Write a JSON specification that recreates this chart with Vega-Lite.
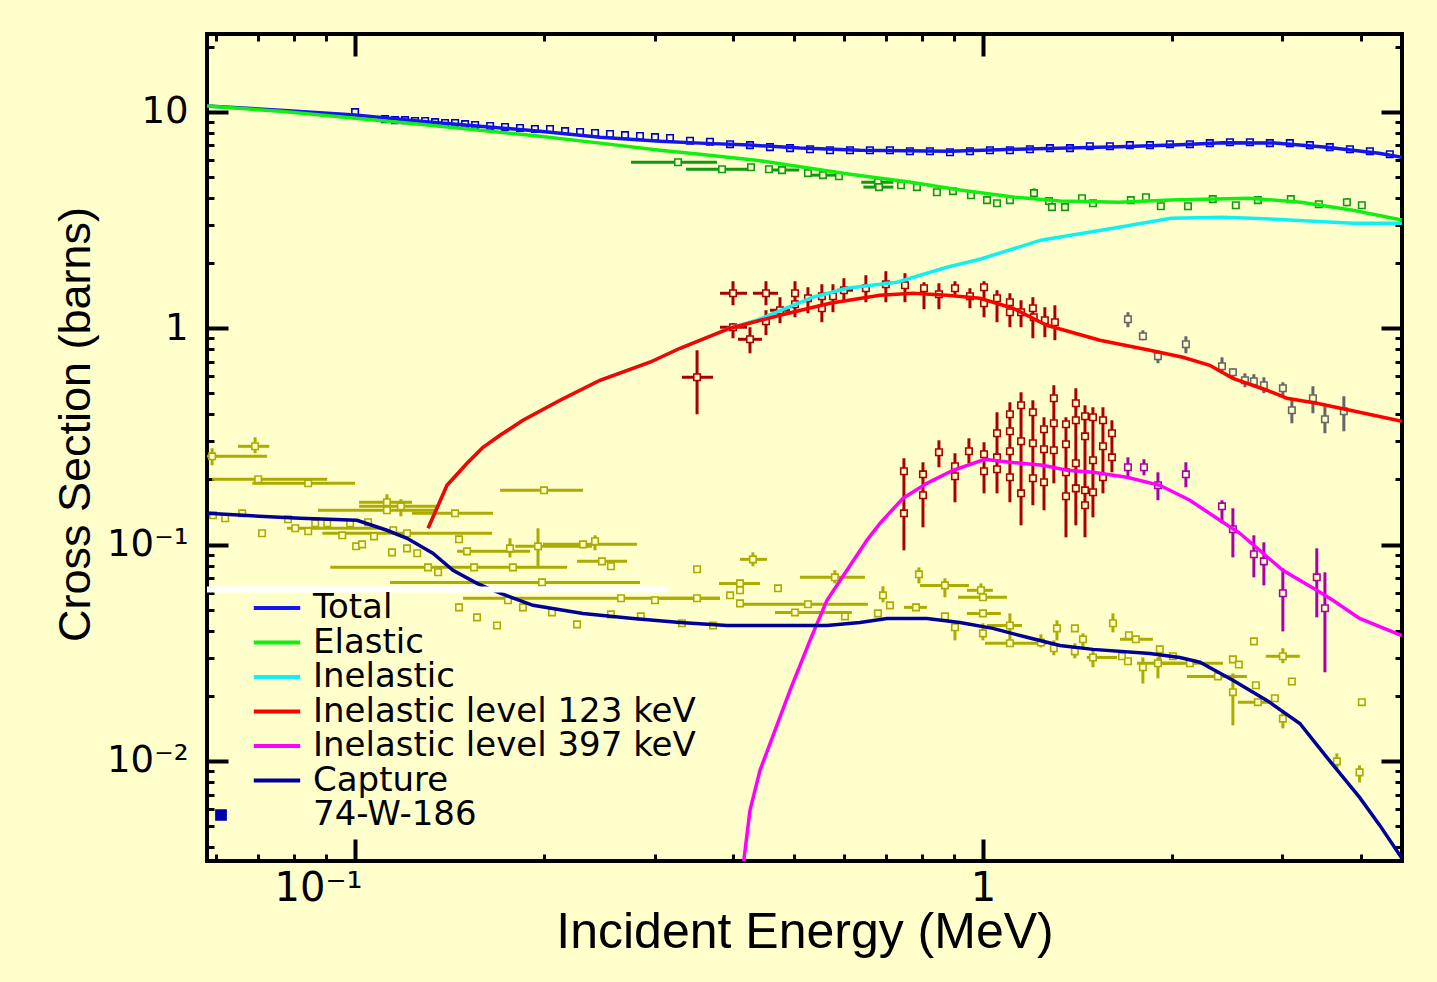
{
"$schema": "https://vega.github.io/schema/vega-lite/v6.json",
"width": 1195, "height": 827,
"autosize": {"type": "none"},
"padding": {"left": 207, "top": 34, "right": 35, "bottom": 121},
"background": "#FFFFCC",
"datasets": {
"curves": [
{"series":"Total","e":0.0581,"s":10.63},{"series":"Total","e":0.076,"s":10.18},{"series":"Total","e":0.1,"s":9.66},{"series":"Total","e":0.1269,"s":9.06},{"series":"Total","e":0.1581,"s":8.59},{"series":"Total","e":0.197,"s":8.14},{"series":"Total","e":0.2455,"s":7.64},{"series":"Total","e":0.3059,"s":7.32},{"series":"Total","e":0.3541,"s":7.17},{"series":"Total","e":0.4256,"s":7.02},{"series":"Total","e":0.5111,"s":6.80},{"series":"Total","e":0.637,"s":6.65},{"series":"Total","e":0.8862,"s":6.58},{"series":"Total","e":1.124,"s":6.72},{"series":"Total","e":1.647,"s":6.90},{"series":"Total","e":2.059,"s":7.05},{"series":"Total","e":2.411,"s":7.2},{"series":"Total","e":2.917,"s":7.17},{"series":"Total","e":3.53,"s":6.87},{"series":"Total","e":4.272,"s":6.44},{"series":"Total","e":4.648,"s":6.17},
{"series":"Elastic","e":0.0581,"s":10.63},{"series":"Elastic","e":0.076,"s":10.07},{"series":"Elastic","e":0.1,"s":9.35},{"series":"Elastic","e":0.1269,"s":8.77},{"series":"Elastic","e":0.1581,"s":8.23},{"series":"Elastic","e":0.197,"s":7.72},{"series":"Elastic","e":0.2455,"s":7.17},{"series":"Elastic","e":0.3059,"s":6.65},{"series":"Elastic","e":0.3541,"s":6.37},{"series":"Elastic","e":0.435,"s":5.98},{"series":"Elastic","e":0.6141,"s":5.15},{"series":"Elastic","e":0.768,"s":4.73},{"series":"Elastic","e":0.919,"s":4.35},{"series":"Elastic","e":1.124,"s":4.03},{"series":"Elastic","e":1.326,"s":3.87},{"series":"Elastic","e":1.647,"s":3.82},{"series":"Elastic","e":1.992,"s":3.91},{"series":"Elastic","e":2.652,"s":3.99},{"series":"Elastic","e":3.21,"s":3.82},{"series":"Elastic","e":3.884,"s":3.51},{"series":"Elastic","e":4.648,"s":3.16},
{"series":"Inelastic","e":0.1307,"s":0.119},{"series":"Inelastic","e":0.1401,"s":0.188},{"series":"Inelastic","e":0.1508,"s":0.2376},{"series":"Inelastic","e":0.1599,"s":0.2818},{"series":"Inelastic","e":0.1702,"s":0.32},{"series":"Inelastic","e":0.1851,"s":0.3755},{"series":"Inelastic","e":0.2121,"s":0.4645},{"series":"Inelastic","e":0.2455,"s":0.575},{"series":"Inelastic","e":0.2949,"s":0.6965},{"series":"Inelastic","e":0.3293,"s":0.808},{"series":"Inelastic","e":0.3956,"s":1.0},{"series":"Inelastic","e":0.4365,"s":1.089},{"series":"Inelastic","e":0.5362,"s":1.391},{"series":"Inelastic","e":0.6073,"s":1.531},{"series":"Inelastic","e":0.7296,"s":1.632},{"series":"Inelastic","e":0.8762,"s":1.914},{"series":"Inelastic","e":0.989,"s":2.084},{"series":"Inelastic","e":1.237,"s":2.552},{"series":"Inelastic","e":1.647,"s":2.93},{"series":"Inelastic","e":1.992,"s":3.225},{"series":"Inelastic","e":2.411,"s":3.26},{"series":"Inelastic","e":2.917,"s":3.19},{"series":"Inelastic","e":3.884,"s":3.06},{"series":"Inelastic","e":4.648,"s":3.06},
{"series":"Inelastic level 123 keV","e":0.1307,"s":0.119},{"series":"Inelastic level 123 keV","e":0.1401,"s":0.188},{"series":"Inelastic level 123 keV","e":0.1508,"s":0.2376},{"series":"Inelastic level 123 keV","e":0.1599,"s":0.2818},{"series":"Inelastic level 123 keV","e":0.1702,"s":0.32},{"series":"Inelastic level 123 keV","e":0.1851,"s":0.3755},{"series":"Inelastic level 123 keV","e":0.2121,"s":0.4645},{"series":"Inelastic level 123 keV","e":0.2455,"s":0.575},{"series":"Inelastic level 123 keV","e":0.2949,"s":0.6965},{"series":"Inelastic level 123 keV","e":0.3293,"s":0.808},{"series":"Inelastic level 123 keV","e":0.3956,"s":1.0},{"series":"Inelastic level 123 keV","e":0.4751,"s":1.148},{"series":"Inelastic level 123 keV","e":0.5707,"s":1.305},{"series":"Inelastic level 123 keV","e":0.6855,"s":1.421},{"series":"Inelastic level 123 keV","e":0.7737,"s":1.451},{"series":"Inelastic level 123 keV","e":0.8762,"s":1.421},{"series":"Inelastic level 123 keV","e":0.989,"s":1.376},{"series":"Inelastic level 123 keV","e":1.116,"s":1.237},{"series":"Inelastic level 123 keV","e":1.264,"s":1.032},{"series":"Inelastic level 123 keV","e":1.5358,"s":0.88},{"series":"Inelastic level 123 keV","e":1.845,"s":0.791},{"series":"Inelastic level 123 keV","e":2.082,"s":0.734},{"series":"Inelastic level 123 keV","e":2.298,"s":0.674},{"series":"Inelastic level 123 keV","e":2.501,"s":0.587},{"series":"Inelastic level 123 keV","e":2.833,"s":0.517},{"series":"Inelastic level 123 keV","e":3.049,"s":0.475},{"series":"Inelastic level 123 keV","e":3.402,"s":0.45},{"series":"Inelastic level 123 keV","e":3.98,"s":0.409},{"series":"Inelastic level 123 keV","e":4.648,"s":0.3715},
{"series":"Inelastic level 397 keV","e":0.4135,"s":0.003},{"series":"Inelastic level 397 keV","e":0.4256,"s":0.00591},{"series":"Inelastic level 397 keV","e":0.4415,"s":0.00905},{"series":"Inelastic level 397 keV","e":0.4665,"s":0.01385},{"series":"Inelastic level 397 keV","e":0.4929,"s":0.0212},{"series":"Inelastic level 397 keV","e":0.5304,"s":0.0361},{"series":"Inelastic level 397 keV","e":0.5644,"s":0.0553},{"series":"Inelastic level 397 keV","e":0.6073,"s":0.0761},{"series":"Inelastic level 397 keV","e":0.6534,"s":0.1047},{"series":"Inelastic level 397 keV","e":0.6855,"s":0.1254},{"series":"Inelastic level 397 keV","e":0.7458,"s":0.1637},{"series":"Inelastic level 397 keV","e":0.8142,"s":0.192},{"series":"Inelastic level 397 keV","e":0.8959,"s":0.2206},{"series":"Inelastic level 397 keV","e":1.007,"s":0.248},{"series":"Inelastic level 397 keV","e":1.104,"s":0.2402},{"series":"Inelastic level 397 keV","e":1.246,"s":0.2326},{"series":"Inelastic level 397 keV","e":1.361,"s":0.2206},{"series":"Inelastic level 397 keV","e":1.497,"s":0.2159},{"series":"Inelastic level 397 keV","e":1.696,"s":0.2047},{"series":"Inelastic level 397 keV","e":1.913,"s":0.188},{"series":"Inelastic level 397 keV","e":2.136,"s":0.1603},{"series":"Inelastic level 397 keV","e":2.385,"s":0.1295},{"series":"Inelastic level 397 keV","e":2.566,"s":0.1128},{"series":"Inelastic level 397 keV","e":3.004,"s":0.0761},{"series":"Inelastic level 397 keV","e":3.402,"s":0.0615},{"series":"Inelastic level 397 keV","e":3.609,"s":0.0553},{"series":"Inelastic level 397 keV","e":3.98,"s":0.0456},{"series":"Inelastic level 397 keV","e":4.648,"s":0.038},
{"series":"Capture","e":0.0581,"s":0.1395},{"series":"Capture","e":0.0663,"s":0.1366},{"series":"Capture","e":0.0818,"s":0.1323},{"series":"Capture","e":0.1007,"s":0.1295},{"series":"Capture","e":0.1124,"s":0.1165},{"series":"Capture","e":0.121,"s":0.1069},{"series":"Capture","e":0.133,"s":0.0912},{"series":"Capture","e":0.1432,"s":0.0761},{"series":"Capture","e":0.1564,"s":0.0662},{"series":"Capture","e":0.1702,"s":0.0596},{"series":"Capture","e":0.192,"s":0.0524},{"series":"Capture","e":0.2307,"s":0.0481},{"series":"Capture","e":0.2771,"s":0.0456},{"series":"Capture","e":0.3293,"s":0.0437},{"series":"Capture","e":0.3913,"s":0.0423},{"series":"Capture","e":0.5644,"s":0.0423},{"series":"Capture","e":0.637,"s":0.0437},{"series":"Capture","e":0.7035,"s":0.0456},{"series":"Capture","e":0.8142,"s":0.0456},{"series":"Capture","e":0.919,"s":0.0437},{"series":"Capture","e":1.037,"s":0.041},{"series":"Capture","e":1.175,"s":0.0373},{"series":"Capture","e":1.326,"s":0.0342},{"series":"Capture","e":1.497,"s":0.0328},{"series":"Capture","e":1.845,"s":0.0314},{"series":"Capture","e":2.059,"s":0.0301},{"series":"Capture","e":2.216,"s":0.0286},{"series":"Capture","e":2.501,"s":0.0236},{"series":"Capture","e":2.833,"s":0.01906},{"series":"Capture","e":3.197,"s":0.0149},{"series":"Capture","e":3.53,"s":0.01039},{"series":"Capture","e":3.98,"s":0.00679},{"series":"Capture","e":4.287,"s":0.00504},{"series":"Capture","e":4.648,"s":0.00355}
],
"pts": [
{"g":"tot","e":0.1,"s":9.97},{"g":"tot","e":0.1116,"s":9.26},{"g":"tot","e":0.1158,"s":9.16},{"g":"tot","e":0.1201,"s":9.16},{"g":"tot","e":0.1246,"s":9.07},{"g":"tot","e":0.1293,"s":9.07},{"g":"tot","e":0.1341,"s":8.97},{"g":"tot","e":0.1391,"s":8.88},{"g":"tot","e":0.1443,"s":8.88},{"g":"tot","e":0.1497,"s":8.78},{"g":"tot","e":0.1553,"s":8.69},{"g":"tot","e":0.1641,"s":8.6},{"g":"tot","e":0.1733,"s":8.51},{"g":"tot","e":0.1831,"s":8.42},{"g":"tot","e":0.1934,"s":8.33},{"g":"tot","e":0.2044,"s":8.33},{"g":"tot","e":0.216,"s":8.15},{"g":"tot","e":0.2282,"s":8.07},{"g":"tot","e":0.2411,"s":7.98},{"g":"tot","e":0.2547,"s":7.9},{"g":"tot","e":0.2691,"s":7.81},{"g":"tot","e":0.2843,"s":7.73},{"g":"tot","e":0.3004,"s":7.64},{"g":"tot","e":0.3174,"s":7.57},{"g":"tot","e":0.3415,"s":7.35},{"g":"tot","e":0.3675,"s":7.28},{"g":"tot","e":0.3956,"s":7.09},{"g":"tot","e":0.4256,"s":7.02},{"g":"tot","e":0.4579,"s":6.87},{"g":"tot","e":0.4929,"s":6.80},{"g":"tot","e":0.5304,"s":6.72},{"g":"tot","e":0.5707,"s":6.65},{"g":"tot","e":0.6141,"s":6.65},{"g":"tot","e":0.6607,"s":6.65},{"g":"tot","e":0.711,"s":6.65},{"g":"tot","e":0.7651,"s":6.58},{"g":"tot","e":0.8233,"s":6.58},{"g":"tot","e":0.8862,"s":6.51},{"g":"tot","e":0.9535,"s":6.58},{"g":"tot","e":1.026,"s":6.65},{"g":"tot","e":1.104,"s":6.65},{"g":"tot","e":1.188,"s":6.72},{"g":"tot","e":1.2785,"s":6.80},{"g":"tot","e":1.376,"s":6.80},{"g":"tot","e":1.48,"s":6.94},{"g":"tot","e":1.593,"s":6.94},{"g":"tot","e":1.714,"s":7.02},{"g":"tot","e":1.845,"s":7.02},{"g":"tot","e":1.985,"s":7.09},{"g":"tot","e":2.136,"s":7.09},{"g":"tot","e":2.298,"s":7.17},{"g":"tot","e":2.474,"s":7.24},{"g":"tot","e":2.662,"s":7.24},{"g":"tot","e":2.864,"s":7.17},{"g":"tot","e":3.082,"s":7.17},{"g":"tot","e":3.317,"s":7.02},{"g":"tot","e":3.568,"s":6.87},{"g":"tot","e":3.841,"s":6.72},{"g":"tot","e":4.133,"s":6.58},{"g":"tot","e":4.447,"s":6.37},
{"g":"el","e":0.3268,"s":5.85,"elo":0.2751,"ehi":0.377},{"g":"el","e":0.3841,"s":5.43,"elo":0.3366,"ehi":0.4272},{"g":"el","e":0.4272,"s":5.55},{"g":"el","e":0.4562,"s":5.43},{"g":"el","e":0.4785,"s":5.38,"elo":0.45,"ehi":0.51},{"g":"el","e":0.5264,"s":5.21},{"g":"el","e":0.5561,"s":5.10,"elo":0.53,"ehi":0.585},{"g":"el","e":0.5897,"s":5.04},{"g":"el","e":0.6804,"s":4.73,"elo":0.64,"ehi":0.72},{"g":"el","e":0.683,"s":4.49,"elo":0.645,"ehi":0.72},{"g":"el","e":0.7404,"s":4.58},{"g":"el","e":0.785,"s":4.49},{"g":"el","e":0.8447,"s":4.25},{"g":"el","e":0.8959,"s":4.30},{"g":"el","e":0.957,"s":4.12},{"g":"el","e":1.015,"s":3.91},{"g":"el","e":1.053,"s":3.78},{"g":"el","e":1.104,"s":3.91},{"g":"el","e":1.206,"s":4.21,"slo":4.0,"shi":4.43},{"g":"el","e":1.274,"s":3.87},{"g":"el","e":1.288,"s":3.63,"slo":3.5,"shi":3.77},{"g":"el","e":1.351,"s":3.63},{"g":"el","e":1.438,"s":3.99},{"g":"el","e":1.497,"s":3.78},{"g":"el","e":1.72,"s":3.91,"slo":3.8,"shi":4.03},{"g":"el","e":1.818,"s":4.03},{"g":"el","e":1.92,"s":3.66,"slo":3.52,"shi":3.8},{"g":"el","e":2.121,"s":3.66,"slo":3.55,"shi":3.78},{"g":"el","e":2.323,"s":3.95},{"g":"el","e":2.528,"s":3.70,"slo":3.6,"shi":3.8},{"g":"el","e":2.741,"s":3.91,"slo":3.78,"shi":4.05},{"g":"el","e":3.093,"s":3.95},{"g":"el","e":3.428,"s":3.74,"slo":3.63,"shi":3.86},{"g":"el","e":3.799,"s":3.82,"slo":3.66,"shi":3.99},{"g":"el","e":4.013,"s":3.70,"slo":3.58,"shi":3.82},
{"g":"red","e":0.3505,"s":0.5935,"elo":0.3316,"ehi":0.3717,"slo":0.4003,"shi":0.791},{"g":"red","e":0.3999,"s":1.451,"elo":0.3813,"ehi":0.421,"slo":1.277,"shi":1.649},{"g":"red","e":0.3999,"s":1.011,"elo":0.3813,"ehi":0.421,"slo":0.899,"shi":1.055},{"g":"red","e":0.4256,"s":0.889,"elo":0.4073,"ehi":0.4447,"slo":0.766,"shi":1.011},{"g":"red","e":0.4513,"s":1.451,"elo":0.4302,"ehi":0.4716,"slo":1.277,"shi":1.649},{"g":"red","e":0.4513,"s":1.077,"slo":0.929,"shi":1.211},{"g":"red","e":0.4751,"s":1.211,"elo":0.4579,"ehi":0.4929,"slo":1.055,"shi":1.391},{"g":"red","e":0.502,"s":1.451,"slo":1.124,"shi":1.649},{"g":"red","e":0.502,"s":1.291},{"g":"red","e":0.5264,"s":1.376,"slo":1.173,"shi":1.547},{"g":"red","e":0.554,"s":1.406,"slo":1.066,"shi":1.597},{"g":"red","e":0.554,"s":1.237},{"g":"red","e":0.577,"s":1.406,"slo":1.186,"shi":1.597},{"g":"red","e":0.6006,"s":1.499,"elo":0.5854,"ehi":0.621,"slo":1.319,"shi":1.703},{"g":"red","e":0.651,"s":1.531,"slo":1.319,"shi":1.758},{"g":"red","e":0.7005,"s":1.597,"slo":1.319,"shi":1.835},{"g":"red","e":0.7513,"s":1.58,"slo":1.319,"shi":1.796},{"g":"red","e":0.8056,"s":1.531,"slo":1.224,"shi":1.632},{"g":"red","e":0.851,"s":1.436,"slo":1.224,"shi":1.614},{"g":"red","e":0.9025,"s":1.531,"slo":1.391,"shi":1.649},{"g":"red","e":0.9535,"s":1.406,"slo":1.237,"shi":1.531},{"g":"red","e":1.004,"s":1.547,"slo":1.124,"shi":1.649},{"g":"red","e":1.004,"s":1.305},{"g":"red","e":1.053,"s":1.376,"slo":1.066,"shi":1.499},{"g":"red","e":1.104,"s":1.319,"slo":1.011,"shi":1.451},{"g":"red","e":1.104,"s":1.186},{"g":"red","e":1.15,"s":1.186,"slo":1.011,"shi":1.347},{"g":"red","e":1.201,"s":1.237,"slo":0.899,"shi":1.391},{"g":"red","e":1.205,"s":1.124},{"g":"red","e":1.255,"s":1.089,"slo":0.909,"shi":1.251},{"g":"red","e":1.302,"s":1.066,"slo":0.88,"shi":1.277},
{"g":"grey","e":1.702,"s":1.101,"slo":1.011,"shi":1.186},{"g":"grey","e":1.798,"s":0.918,"slo":0.88,"shi":0.979},{"g":"grey","e":1.9,"s":0.742,"slo":0.689,"shi":0.791},{"g":"grey","e":2.105,"s":0.843,"slo":0.766,"shi":0.918},{"g":"grey","e":2.403,"s":0.667,"slo":0.619,"shi":0.734},{"g":"grey","e":2.501,"s":0.626,"slo":0.587,"shi":0.653},{"g":"grey","e":2.614,"s":0.575,"slo":0.534,"shi":0.619},{"g":"grey","e":2.701,"s":0.569,"slo":0.534,"shi":0.613},{"g":"grey","e":2.802,"s":0.545,"slo":0.501,"shi":0.5935},{"g":"grey","e":3.004,"s":0.528,"slo":0.49,"shi":0.563},{"g":"grey","e":3.105,"s":0.418,"slo":0.3637,"shi":0.465},{"g":"grey","e":3.354,"s":0.475,"slo":0.4046,"shi":0.5393},{"g":"grey","e":3.505,"s":0.3796,"slo":0.327,"shi":0.436},{"g":"grey","e":3.757,"s":0.4133,"slo":0.334,"shi":0.485},
{"g":"red","e":0.7485,"s":0.2183,"slo":0.0941,"shi":0.2506},{"g":"red","e":0.7485,"s":0.1395},{"g":"red","e":0.8026,"s":0.2113,"slo":0.1202,"shi":0.2402},{"g":"red","e":0.8026,"s":0.169},{"g":"red","e":0.851,"s":0.2672,"slo":0.2277,"shi":0.3035},{"g":"red","e":0.9025,"s":0.2301,"slo":0.1569,"shi":0.2644},{"g":"red","e":0.9025,"s":0.2069},{"g":"red","e":0.95,"s":0.27,"slo":0.2376,"shi":0.31},{"g":"red","e":1.004,"s":0.2615,"slo":0.1726,"shi":0.2971},{"g":"red","e":1.004,"s":0.2183},{"g":"red","e":1.053,"s":0.327,"slo":0.1726,"shi":0.409},{"g":"red","e":1.053,"s":0.2532},{"g":"red","e":1.053,"s":0.2229},{"g":"red","e":1.104,"s":0.4003,"slo":0.1569,"shi":0.4549},{"g":"red","e":1.104,"s":0.334},{"g":"red","e":1.104,"s":0.27},{"g":"red","e":1.104,"s":0.2047},{"g":"red","e":1.15,"s":0.4406,"slo":0.1228,"shi":0.5059},{"g":"red","e":1.15,"s":0.3003},{"g":"red","e":1.15,"s":0.1726},{"g":"red","e":1.201,"s":0.409,"slo":0.152,"shi":0.4646},{"g":"red","e":1.201,"s":0.294},{"g":"red","e":1.201,"s":0.2025},{"g":"red","e":1.251,"s":0.3412,"slo":0.1441,"shi":0.3878},{"g":"red","e":1.251,"s":0.2759},{"g":"red","e":1.251,"s":0.1941},{"g":"red","e":1.297,"s":0.4746,"slo":0.192,"shi":0.5452},{"g":"red","e":1.297,"s":0.3637},{"g":"red","e":1.297,"s":0.2729},{"g":"red","e":1.356,"s":0.3598,"slo":0.1081,"shi":0.3878},{"g":"red","e":1.356,"s":0.2909},{"g":"red","e":1.356,"s":0.2159},{"g":"red","e":1.356,"s":0.1673},{"g":"red","e":1.406,"s":0.4499,"slo":0.1228,"shi":0.528},{"g":"red","e":1.406,"s":0.3755},{"g":"red","e":1.406,"s":0.2376},{"g":"red","e":1.406,"s":0.182},{"g":"red","e":1.454,"s":0.3918,"slo":0.1081,"shi":0.4406},{"g":"red","e":1.454,"s":0.3166},{"g":"red","e":1.454,"s":0.1782},{"g":"red","e":1.454,"s":0.152},{"g":"red","e":1.497,"s":0.3878,"slo":0.1337,"shi":0.4313},{"g":"red","e":1.497,"s":0.2453},{"g":"red","e":1.497,"s":0.1745},{"g":"red","e":1.553,"s":0.3755,"slo":0.1726,"shi":0.4313},{"g":"red","e":1.553,"s":0.2847},{"g":"red","e":1.553,"s":0.2047},{"g":"red","e":1.605,"s":0.327,"slo":0.2159,"shi":0.3755},{"g":"red","e":1.605,"s":0.2532},
{"g":"pur","e":1.702,"s":0.2277,"slo":0.2047,"shi":0.2532},{"g":"pur","e":1.805,"s":0.2277,"slo":0.2091,"shi":0.248},{"g":"pur","e":1.9,"s":0.188,"slo":0.1603,"shi":0.2159},{"g":"pur","e":2.105,"s":0.2113,"slo":0.184,"shi":0.2402},{"g":"pur","e":2.403,"s":0.1503,"slo":0.1254,"shi":0.1603},{"g":"pur","e":2.501,"s":0.1177,"slo":0.0873,"shi":0.1472},{"g":"pur","e":2.701,"s":0.0902,"slo":0.0706,"shi":0.1104},{"g":"pur","e":2.802,"s":0.0837,"slo":0.0648,"shi":0.1025},{"g":"pur","e":3.004,"s":0.0596,"slo":0.0397,"shi":0.0777},{"g":"pur","e":3.402,"s":0.0706,"slo":0.0461,"shi":0.0961},{"g":"pur","e":3.505,"s":0.0508,"slo":0.0257,"shi":0.0745},
{"g":"cap","e":0.0592,"s":0.2559,"elo":0.055,"ehi":0.0724,"slo":0.2326,"shi":0.2787},{"g":"cap","e":0.0693,"s":0.2847,"elo":0.0651,"ehi":0.073,"slo":0.2644,"shi":0.3133},{"g":"cap","e":0.0701,"s":0.2004,"elo":0.0592,"ehi":0.0903},{"g":"cap","e":0.0842,"s":0.192,"elo":0.0686,"ehi":0.1},{"g":"cap","e":0.0594,"s":0.1366},{"g":"cap","e":0.0621,"s":0.1323},{"g":"cap","e":0.0661,"s":0.1395},{"g":"cap","e":0.0711,"s":0.1128},{"g":"cap","e":0.0782,"s":0.1309},{"g":"cap","e":0.0803,"s":0.119,"elo":0.0779,"ehi":0.1104},{"g":"cap","e":0.0842,"s":0.1152},{"g":"cap","e":0.0864,"s":0.1254},{"g":"cap","e":0.0903,"s":0.1254},{"g":"cap","e":0.0954,"s":0.1104},{"g":"cap","e":0.0982,"s":0.1254},{"g":"cap","e":0.1004,"s":0.0982},{"g":"cap","e":0.1026,"s":0.1003},{"g":"cap","e":0.1049,"s":0.1268},{"g":"cap","e":0.1072,"s":0.1092},{"g":"cap","e":0.1124,"s":0.1569,"elo":0.1015,"ehi":0.1232,"slo":0.1441,"shi":0.1709},{"g":"cap","e":0.1124,"s":0.1441,"elo":0.0873,"ehi":0.1351},{"g":"cap","e":0.1183,"s":0.1503,"elo":0.1015,"ehi":0.1351,"slo":0.1351,"shi":0.162},{"g":"cap","e":0.1145,"s":0.0921},{"g":"cap","e":0.115,"s":0.1165},{"g":"cap","e":0.121,"s":0.1128,"elo":0.0887,"ehi":0.1653},{"g":"cap","e":0.121,"s":0.0961},{"g":"cap","e":0.1256,"s":0.0912},{"g":"cap","e":0.1307,"s":0.0785,"elo":0.0913,"ehi":0.2176},{"g":"cap","e":0.1356,"s":0.0745},{"g":"cap","e":0.1443,"s":0.1395,"elo":0.1232,"ehi":0.1659},{"g":"cap","e":0.1464,"s":0.1058},{"g":"cap","e":0.1508,"s":0.0931,"elo":0.1454,"ehi":0.19},{"g":"cap","e":0.1547,"s":0.0785},{"g":"cap","e":0.1765,"s":0.0961,"slo":0.0873,"shi":0.1069},{"g":"cap","e":0.1784,"s":0.0785},{"g":"cap","e":0.1956,"s":0.0982,"elo":0.18,"ehi":0.2384,"slo":0.0785,"shi":0.119},{"g":"cap","e":0.1999,"s":0.1782,"elo":0.1702,"ehi":0.2307},{"g":"cap","e":0.2307,"s":0.1003,"elo":0.1992,"ehi":0.2812},{"g":"cap","e":0.2411,"s":0.1036,"slo":0.0941,"shi":0.1104},{"g":"cap","e":0.2473,"s":0.0837,"elo":0.2257,"ehi":0.2711},{"g":"cap","e":0.2556,"s":0.0794},{"g":"cap","e":0.1985,"s":0.0669,"elo":0.1137,"ehi":0.2843},{"g":"cap","e":0.4302,"s":0.0855,"elo":0.4103,"ehi":0.4529,"slo":0.0794,"shi":0.0921},{"g":"cap","e":0.3505,"s":0.0769},{"g":"cap","e":0.4103,"s":0.0662,"elo":0.3799,"ehi":0.4415},{"g":"cap","e":0.4103,"s":0.0615},{"g":"cap","e":0.4103,"s":0.0535},{"g":"cap","e":0.3956,"s":0.0583},{"g":"cap","e":0.4716,"s":0.0628},{"g":"cap","e":0.2652,"s":0.0565,"elo":0.1486,"ehi":0.3813},{"g":"cap","e":0.3004,"s":0.0553},{"g":"cap","e":0.1464,"s":0.0513},{"g":"cap","e":0.1564,"s":0.0461},{"g":"cap","e":0.1683,"s":0.0423},{"g":"cap","e":0.1752,"s":0.0553},{"g":"cap","e":0.1851,"s":0.0513},{"g":"cap","e":0.2059,"s":0.0486},{"g":"cap","e":0.2257,"s":0.0428},{"g":"cap","e":0.2556,"s":0.0476},{"g":"cap","e":0.2852,"s":0.0466},{"g":"cap","e":0.3316,"s":0.0433},{"g":"cap","e":0.3717,"s":0.0423},{"g":"cap","e":0.581,"s":0.0706,"elo":0.5111,"ehi":0.6486,"slo":0.0662,"shi":0.0761},{"g":"cap","e":0.7908,"s":0.0729,"slo":0.0662,"shi":0.0785},{"g":"cap","e":0.8699,"s":0.0648,"elo":0.7937,"ehi":0.95,"slo":0.0571,"shi":0.0699},{"g":"cap","e":0.9927,"s":0.0615,"elo":0.943,"ehi":1.037,"slo":0.0565,"shi":0.0662},{"g":"cap","e":1.0,"s":0.0571,"elo":0.9125,"ehi":1.092},{"g":"cap","e":0.6931,"s":0.0583,"slo":0.0541,"shi":0.0642},{"g":"cap","e":0.711,"s":0.0524},{"g":"cap","e":0.7822,"s":0.0513,"elo":0.7485,"ehi":0.8142},{"g":"cap","e":1.0,"s":0.0481,"elo":0.943,"ehi":1.068},{"g":"cap","e":0.3505,"s":0.0565,"elo":0.3059,"ehi":0.3813},{"g":"cap","e":0.5264,"s":0.053,"elo":0.4073,"ehi":0.6559},{"g":"cap","e":0.502,"s":0.0486,"elo":0.4665,"ehi":0.6186},{"g":"cap","e":0.6029,"s":0.0466},{"g":"cap","e":0.6804,"s":0.0481},{"g":"cap","e":0.8699,"s":0.0466},{"g":"cap","e":1.104,"s":0.0423,"elo":1.015,"ehi":1.154,"slo":0.0361,"shi":0.0481},{"g":"cap","e":1.0,"s":0.0389,"slo":0.0361,"shi":0.0433},{"g":"cap","e":0.9025,"s":0.0415,"slo":0.0361,"shi":0.0437},{"g":"cap","e":1.104,"s":0.035,"elo":1.0074,"ehi":1.264},{"g":"cap","e":1.237,"s":0.0353,"slo":0.0335,"shi":0.0385},{"g":"cap","e":1.312,"s":0.041,"slo":0.0361,"shi":0.0447},{"g":"cap","e":1.401,"s":0.041},{"g":"cap","e":1.297,"s":0.0332,"slo":0.0308,"shi":0.0361},{"g":"cap","e":1.401,"s":0.0321,"slo":0.0298,"shi":0.035},{"g":"cap","e":1.443,"s":0.0365,"slo":0.0335,"shi":0.0389},{"g":"cap","e":1.497,"s":0.0301,"elo":1.464,"ehi":1.635,"slo":0.0271,"shi":0.0325},{"g":"cap","e":1.611,"s":0.0433,"slo":0.0393,"shi":0.0481},{"g":"cap","e":1.708,"s":0.0381},{"g":"cap","e":1.752,"s":0.0365,"elo":1.653,"ehi":1.865},{"g":"cap","e":1.665,"s":0.0305},{"g":"cap","e":1.702,"s":0.0289},{"g":"cap","e":1.798,"s":0.0271,"slo":0.0228,"shi":0.0301},{"g":"cap","e":1.913,"s":0.0328,"slo":0.0292,"shi":0.0342},{"g":"cap","e":1.9,"s":0.0283,"elo":1.759,"ehi":2.082,"slo":0.0241,"shi":0.0301},{"g":"cap","e":2.007,"s":0.0305},{"g":"cap","e":2.136,"s":0.0283,"elo":1.865,"ehi":2.411},{"g":"cap","e":2.367,"s":0.0246,"elo":2.113,"ehi":2.633},{"g":"cap","e":2.501,"s":0.0295},{"g":"cap","e":2.556,"s":0.0279},{"g":"cap","e":2.501,"s":0.0208,"slo":0.0146,"shi":0.0254},{"g":"cap","e":2.701,"s":0.0357},{"g":"cap","e":3.004,"s":0.0305,"elo":2.822,"ehi":3.197,"slo":0.0283,"shi":0.0332},{"g":"cap","e":3.105,"s":0.0233},{"g":"cap","e":2.721,"s":0.0224},{"g":"cap","e":2.741,"s":0.0187,"elo":2.547,"ehi":2.896},{"g":"cap","e":2.917,"s":0.0195},{"g":"cap","e":3.004,"s":0.0157,"slo":0.01415,"shi":0.0168},{"g":"cap","e":3.662,"s":0.00996,"slo":0.00905,"shi":0.01084},{"g":"cap","e":3.98,"s":0.00886,"slo":0.00796,"shi":0.00954},{"g":"cap","e":4.013,"s":0.0187}
]
},
"layer": [
{
"data": {"name": "pts"},
"transform": [{"filter": "isValid(datum.elo)"}],
"mark": {"type": "rule", "strokeWidth": 3, "clip": true},
"encoding": {
"x": {"field": "elo", "type": "quantitative", "scale": {"type": "log", "domain": [0.0581, 4.65], "nice": false}, "axis": null},
"x2": {"field": "ehi"},
"y": {"field": "s", "type": "quantitative", "scale": {"type": "log", "domain": [0.00345, 22.9], "nice": false}, "axis": null},
"color": {"field": "g", "type": "nominal", "legend": null, "scale": {"domain": ["tot","el","red","grey","pur","cap"], "range": ["#0000CC","#119911","#AA0000","#666666","#AA00AA","#ABAB00"]}}
}
},
{
"data": {"name": "pts"},
"transform": [{"filter": "isValid(datum.slo)"}],
"mark": {"type": "rule", "strokeWidth": 3, "clip": true},
"encoding": {
"x": {"field": "e", "type": "quantitative", "scale": {"type": "log", "domain": [0.0581, 4.65], "nice": false}, "axis": null},
"y": {"field": "slo", "type": "quantitative", "scale": {"type": "log", "domain": [0.00345, 22.9], "nice": false}, "axis": null},
"y2": {"field": "shi"},
"color": {"field": "g", "type": "nominal", "legend": null, "scale": {"domain": ["tot","el","red","grey","pur","cap"], "range": ["#0000CC","#119911","#AA0000","#666666","#AA00AA","#ABAB00"]}}
}
},
{
"data": {"name": "pts"},
"mark": {"type": "point", "shape": "square", "size": 42, "strokeWidth": 1.6, "fill": "#FFFFCC", "fillOpacity": 1, "opacity": 1, "clip": true},
"encoding": {
"x": {"field": "e", "type": "quantitative", "scale": {"type": "log", "domain": [0.0581, 4.65], "nice": false}, "axis": null},
"y": {"field": "s", "type": "quantitative", "scale": {"type": "log", "domain": [0.00345, 22.9], "nice": false}, "axis": null},
"stroke": {"field": "g", "type": "nominal", "legend": null, "scale": {"domain": ["tot","el","red","grey","pur","cap"], "range": ["#0000CC","#119911","#AA0000","#666666","#AA00AA","#ABAB00"]}}
}
},
{
"data": {"name": "curves"},
"mark": {"type": "line", "strokeWidth": 3.5, "clip": true},
"encoding": {
"x": {"field": "e", "type": "quantitative", "scale": {"type": "log", "domain": [0.0581, 4.65], "nice": false},
 "axis": {"orient": "bottom", "values": [0.06,0.07,0.08,0.09,0.1,0.2,0.3,0.4,0.5,0.6,0.7,0.8,0.9,1,2,3,4],
  "labelExpr": "datum.value == 1 ? '1' : (datum.value == 0.1 ? '10⁻¹' : '')",
  "labelFont": "DejaVu Sans", "labelFontSize": 40, "labelPadding": 29,
  "labelAlign": {"condition": {"test": "datum.value == 0.1", "value": "right"}, "value": "center"},
  "labelOffset": {"condition": {"test": "datum.value == 0.1", "value": 7}, "value": 0},
  "tickSize": {"condition": {"test": "datum.value == 0.1 || datum.value == 1", "value": -22}, "value": -7},
  "tickWidth": {"condition": {"test": "datum.value == 0.1 || datum.value == 1", "value": 4}, "value": 3},
  "title": "Incident Energy (MeV)", "titleFontSize": 50, "titleY": 86, "titleBaseline": "alphabetic"}},
"y": {"field": "s", "type": "quantitative", "scale": {"type": "log", "domain": [0.00345, 22.9], "nice": false},
 "axis": {"orient": "left", "values": [0.004,0.005,0.006,0.007,0.008,0.009,0.01,0.02,0.03,0.04,0.05,0.06,0.07,0.08,0.09,0.1,0.2,0.3,0.4,0.5,0.6,0.7,0.8,0.9,1,2,3,4,5,6,7,8,9,10,20],
  "labelExpr": "datum.value == 10 ? '10' : datum.value == 1 ? '1' : datum.value == 0.1 ? '10⁻¹' : datum.value == 0.01 ? '10⁻²' : ''",
  "labelFont": "DejaVu Sans", "labelFontSize": 37, "labelPadding": 40,
  "tickSize": {"condition": {"test": "datum.value == 0.01 || datum.value == 0.1 || datum.value == 1 || datum.value == 10", "value": -21}, "value": -7},
  "tickWidth": {"condition": {"test": "datum.value == 0.01 || datum.value == 0.1 || datum.value == 1 || datum.value == 10", "value": 4}, "value": 3},
  "title": "Cross Section (barns)", "titleFontSize": 45, "titleX": -132, "titleY": 390, "titleAlign": "center", "titleBaseline": "middle"}},
"color": {"field": "series", "type": "nominal",
 "scale": {"domain": ["Total","Elastic","Inelastic","Inelastic level 123 keV","Inelastic level 397 keV","Capture","74-W-186"],
  "range": ["#1414F0","#11EE11","#11F0F0","#FF0000","#FF00FF","#000099","#0000AA"]},
 "legend": {"orient": "none", "legendX": 53, "legendY": 557, "title": null,
  "labelFont": "DejaVu Sans", "labelFontSize": 34, "labelColor": "black", "symbolType": "M-1.6,0H1.6", "symbolSize": 841, "symbolStrokeWidth": 4,
  "labelOffset": 19, "rowPadding": 0.5, "padding": 0, "labelLimit": 0,
  "encode": {"symbols": {"update": {
   "shape": {"signal": "datum.label == '74-W-186' ? 'square' : 'M-1.6,0H1.6'"},
   "size": {"signal": "datum.label == '74-W-186' ? 60 : 841"},
   "fill": {"signal": "datum.label == '74-W-186' ? '#0000AA' : 'transparent'"},
   "x": {"signal": "datum.label == '74-W-186' ? -39 : 17"}
  }}}}}
}
},
{
"data": {"values": [{"e1": 0.0581, "e2": 0.314, "s": 0.0621}]},
"mark": {"type": "rule", "color": "white", "strokeWidth": 6},
"encoding": {
"x": {"field": "e1", "type": "quantitative", "scale": {"type": "log", "domain": [0.0581, 4.65], "nice": false},
 "axis": {"orient": "top", "values": [0.06,0.07,0.08,0.09,0.1,0.2,0.3,0.4,0.5,0.6,0.7,0.8,0.9,1,2,3,4], "labels": false, "title": null,
  "tickSize": {"condition": {"test": "datum.value == 0.1 || datum.value == 1", "value": -22}, "value": -7},
  "tickWidth": {"condition": {"test": "datum.value == 0.1 || datum.value == 1", "value": 4}, "value": 3}}},
"x2": {"field": "e2"},
"y": {"field": "s", "type": "quantitative", "scale": {"type": "log", "domain": [0.00345, 22.9], "nice": false},
 "axis": {"orient": "right", "values": [0.004,0.005,0.006,0.007,0.008,0.009,0.01,0.02,0.03,0.04,0.05,0.06,0.07,0.08,0.09,0.1,0.2,0.3,0.4,0.5,0.6,0.7,0.8,0.9,1,2,3,4,5,6,7,8,9,10,20], "labels": false, "title": null,
  "tickSize": {"condition": {"test": "datum.value == 0.01 || datum.value == 0.1 || datum.value == 1 || datum.value == 10", "value": -21}, "value": -7},
  "tickWidth": {"condition": {"test": "datum.value == 0.01 || datum.value == 0.1 || datum.value == 1 || datum.value == 10", "value": 4}, "value": 3}}}
}
}
],
"resolve": {"scale": {"color": "independent"}, "axis": {"x": "independent", "y": "independent"}},
"config": {
"font": "Liberation Sans",
"view": {"stroke": "black", "strokeWidth": 4},
"axis": {"grid": false, "domain": false, "tickColor": "black", "labelColor": "black", "titleColor": "black", "titleFontWeight": "normal", "labelOverlap": false, "labelFlush": false, "labelBound": false}
}
}
